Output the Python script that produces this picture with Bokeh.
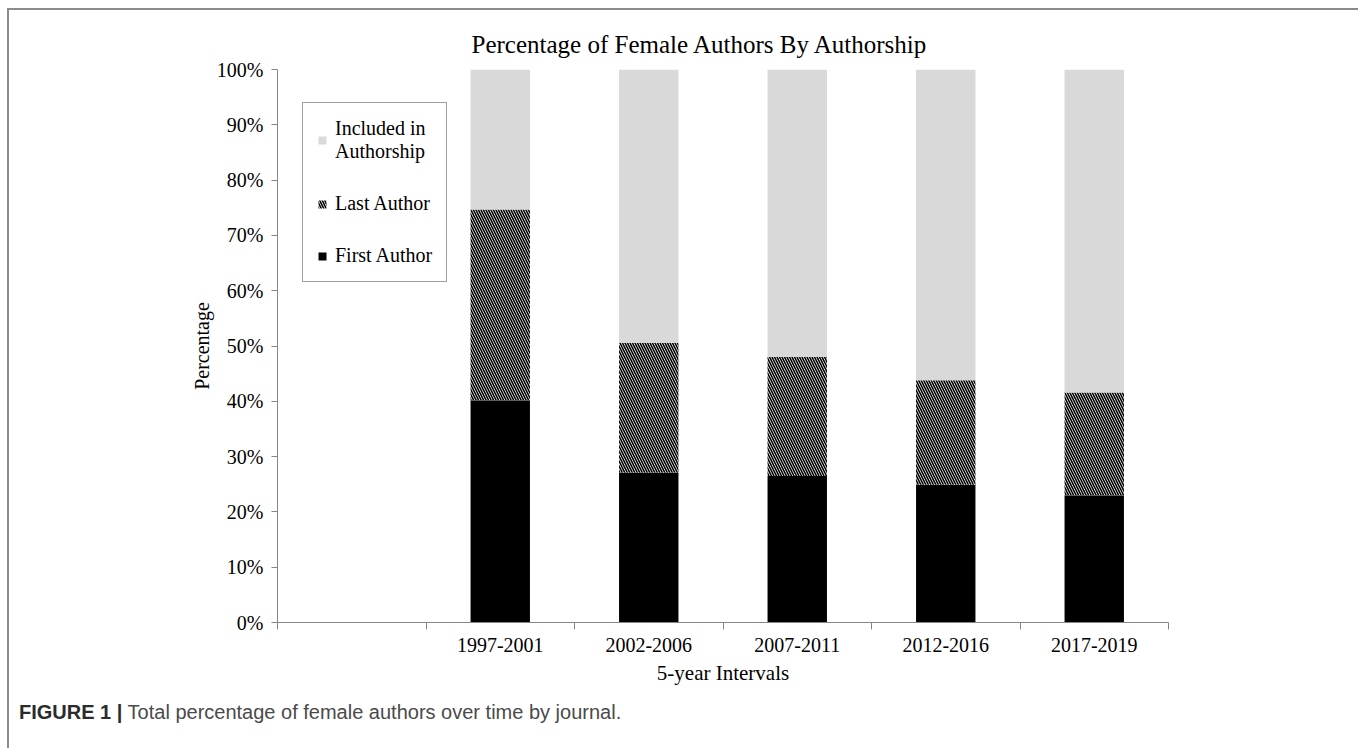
from bokeh.plotting import figure
from bokeh.layouts import column
from bokeh.models import (ColumnDataSource, Range1d, FixedTicker, CustomJSTickFormatter,
                          PrintfTickFormatter, Legend, LegendItem, Title, Div)
from bokeh.embed import file_html
from bokeh.resources import INLINE

# Share of female authors (%) per period
periods = ["1997-2001", "2002-2006", "2007-2011", "2012-2016", "2017-2019"]
first_author = [40.2, 27.1, 26.5, 24.9, 23.0]
last_author = [34.5, 23.5, 21.5, 18.9, 18.6]
included = [25.3, 49.4, 52.0, 56.2, 58.4]
y_ticks = [0, 10, 20, 30, 40, 50, 60, 70, 80, 90, 100]

SERIF = "Liberation Serif"
SANS = "Liberation Sans"
AXIS_GREY = "#868686"

# the first slot of the category axis is left empty
x_pos = [i + 1.5 for i in range(len(periods))]
n_slots = len(periods) + 1

first_top = first_author
last_top = [f + l for f, l in zip(first_author, last_author)]
incl_top = [t + i for t, i in zip(last_top, included)]

src = ColumnDataSource(dict(
    x=x_pos, period=periods,
    first_bottom=[0] * len(periods), first_top=first_top,
    last_bottom=first_top, last_top=last_top,
    incl_bottom=last_top, incl_top=incl_top,
))

p = figure(width=1345, height=680, output_backend="svg", toolbar_location=None,
           x_range=Range1d(0, n_slots), y_range=Range1d(0, 100),
           min_border_left=268, min_border_right=186, min_border_top=59, min_border_bottom=68)
p.outline_line_color = None
p.grid.visible = False
p.background_fill_color = "white"
p.border_fill_color = "white"

p.title = Title(text="Percentage of Female Authors By Authorship", align="left", offset=194,
                text_font=SERIF, text_font_size="25px", text_font_style="normal",
                text_color="black", standoff=24)

r_first = p.vbar(x="x", bottom="first_bottom", top="first_top", width=0.4, source=src,
                 fill_color="black", line_color=None)
r_last = p.vbar(x="x", bottom="last_bottom", top="last_top", width=0.4, source=src,
                fill_color="white", line_color=None, hatch_pattern="left_diagonal_line",
                hatch_color="black", hatch_scale=5, hatch_weight=1.6)
r_incl = p.vbar(x="x", bottom="incl_bottom", top="incl_top", width=0.4, source=src,
                fill_color="#d9d9d9", line_color=None)

# x axis: tick marks on category boundaries, labels in the middle of each slot
xa = p.xaxis[0]
xa.ticker = FixedTicker(ticks=x_pos, minor_ticks=list(range(0, n_slots + 1)))
xa.formatter = CustomJSTickFormatter(args=dict(names=periods),
                                     code="return names[Math.round(tick - 1.5)];")
xa.major_tick_line_color = None
xa.minor_tick_line_color = AXIS_GREY
xa.minor_tick_in = 0
xa.minor_tick_out = 7
xa.axis_line_color = AXIS_GREY
xa.major_label_standoff = 8
xa.major_label_text_font = SERIF
xa.major_label_text_font_size = "20px"
xa.major_label_text_color = "black"
xa.axis_label = "5-year Intervals"
xa.axis_label_text_font = SERIF
xa.axis_label_text_font_size = "21px"
xa.axis_label_text_font_style = "normal"
xa.axis_label_text_color = "black"
xa.axis_label_standoff = 6

ya = p.yaxis[0]
ya.ticker = FixedTicker(ticks=y_ticks, minor_ticks=[])
ya.formatter = PrintfTickFormatter(format="%d%%")
ya.major_tick_line_color = AXIS_GREY
ya.major_tick_in = 0
ya.major_tick_out = 6
ya.axis_line_color = AXIS_GREY
ya.major_label_standoff = 8
ya.major_label_text_font = SERIF
ya.major_label_text_font_size = "20px"
ya.major_label_text_color = "black"
ya.axis_label = "Percentage"
ya.axis_label_text_font = SERIF
ya.axis_label_text_font_size = "20px"
ya.axis_label_text_font_style = "normal"
ya.axis_label_text_color = "black"
ya.axis_label_standoff = 1

legend = Legend(items=[
    LegendItem(label="Included in\nAuthorship", renderers=[r_incl]),
    LegendItem(label="Last Author", renderers=[r_last]),
    LegendItem(label="First Author", renderers=[r_first]),
], location=(25, 340), border_line_color="#444444", border_line_width=1,
    background_fill_color="white", background_fill_alpha=1,
    label_text_font=SERIF, label_text_font_size="20px", label_text_color="black",
    glyph_width=10, glyph_height=10, label_standoff=8, spacing=29, padding=14, margin=0)
p.add_layout(legend, "center")

caption = Div(
    text='<span style="font-weight:bold;color:#2b2b2b">FIGURE 1 |</span> '
         'Total percentage of female authors over time by journal.',
    width=1345, height=58,
    styles={"font-family": SANS, "font-size": "20px", "color": "#4a4a4a",
            "line-height": "22px", "padding-top": "6px", "padding-left": "5px",
            "box-sizing": "border-box", "background": "white"},
)

page = column(p, caption, spacing=0, margin=(8, 0, 0, 7),
              styles={"border": "2px solid #8c8c8c", "border-bottom": "none",
                      "background": "white"})

open("out.html", "w").write(file_html(page, INLINE))
